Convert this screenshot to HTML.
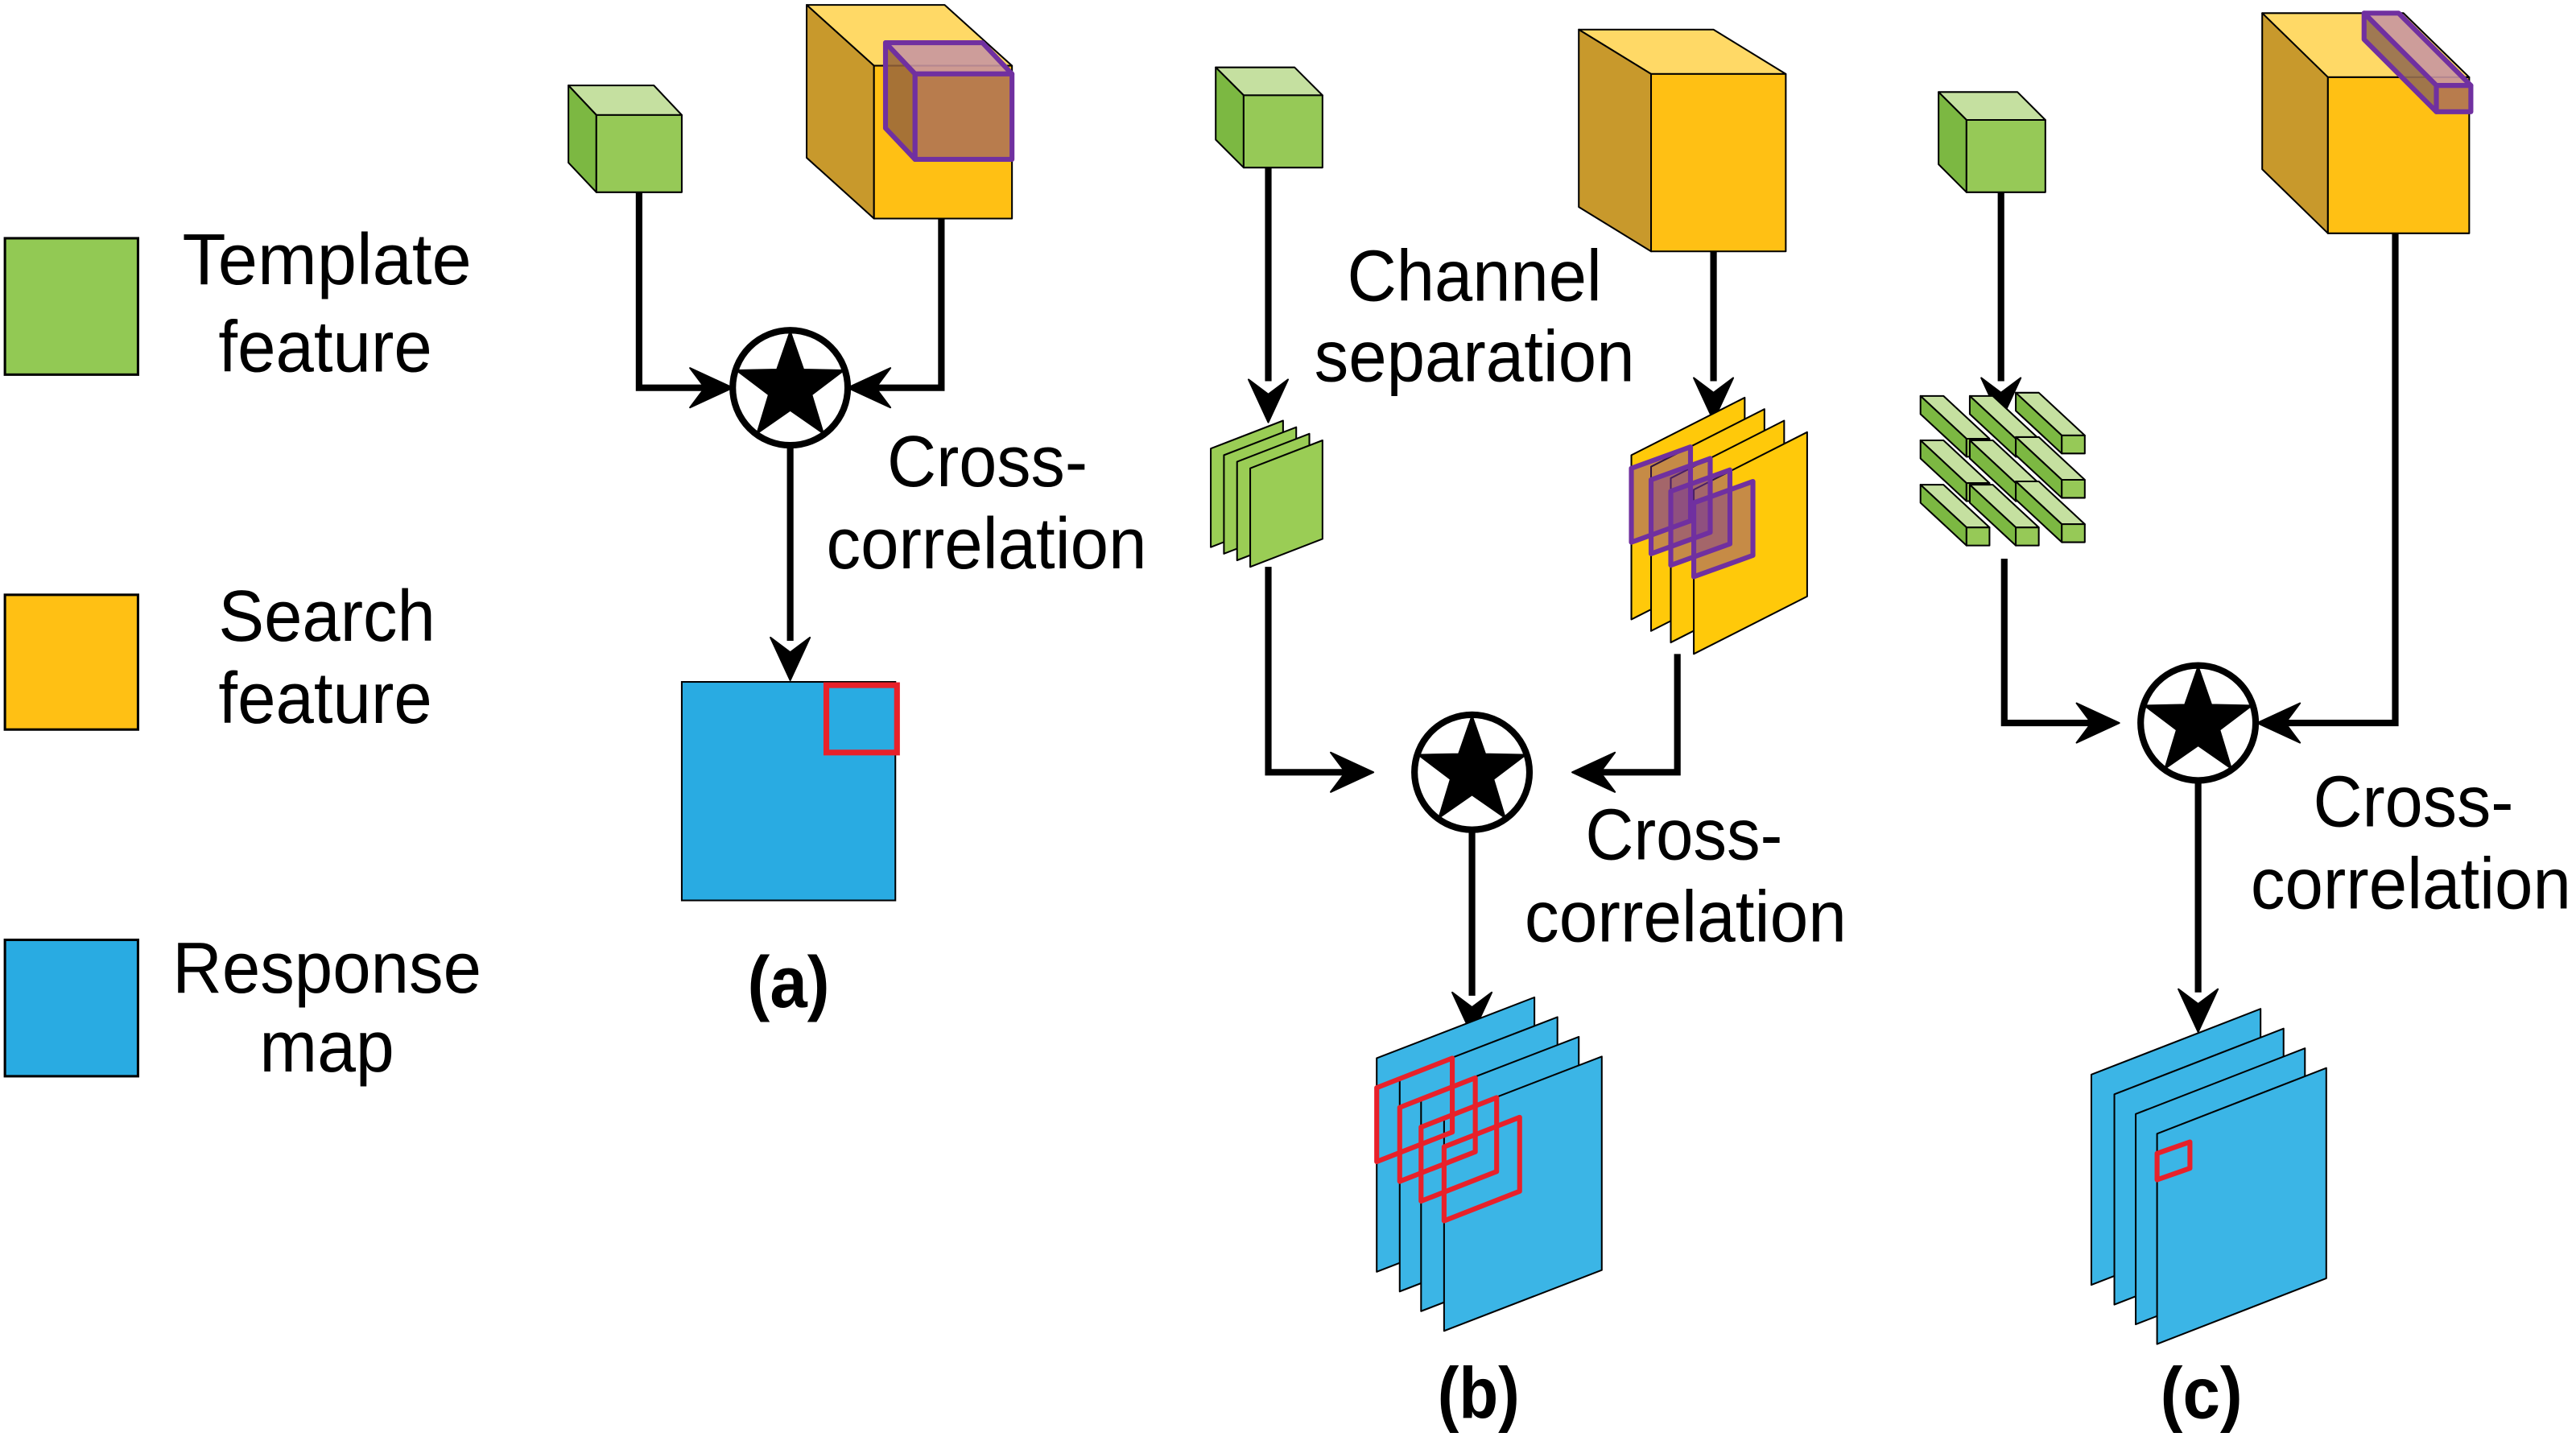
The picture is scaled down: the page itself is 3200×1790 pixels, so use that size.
<!DOCTYPE html>
<html><head><meta charset="utf-8"><style>
html,body{margin:0;padding:0;background:#fff;}
svg{display:block;}
text{font-family:"Liberation Sans",Arial,sans-serif;fill:#000;}
</style></head><body>
<svg id="s" xmlns="http://www.w3.org/2000/svg" width="3200" height="1790" viewBox="0 0 1568 877" preserveAspectRatio="none">
<rect x="0" y="0" width="1568" height="877" fill="#fff"/>
<g id="shapes"></g>
<g font-size="44">
<text x="111" y="173" textLength="176" lengthAdjust="spacingAndGlyphs">Template</text>
<text x="133" y="226" textLength="130" lengthAdjust="spacingAndGlyphs">feature</text>
<text x="133" y="390" textLength="132" lengthAdjust="spacingAndGlyphs">Search</text>
<text x="133" y="440" textLength="130" lengthAdjust="spacingAndGlyphs">feature</text>
<text x="105" y="604" textLength="188" lengthAdjust="spacingAndGlyphs">Response</text>
<text x="158" y="652" textLength="82" lengthAdjust="spacingAndGlyphs">map</text>
<text x="540" y="296" textLength="122" lengthAdjust="spacingAndGlyphs">Cross-</text>
<text x="503" y="346" textLength="195" lengthAdjust="spacingAndGlyphs">correlation</text>
<text x="820" y="183" textLength="155" lengthAdjust="spacingAndGlyphs">Channel</text>
<text x="800" y="232" textLength="195" lengthAdjust="spacingAndGlyphs">separation</text>
<text x="965" y="523" textLength="120" lengthAdjust="spacingAndGlyphs">Cross-</text>
<text x="928" y="573" textLength="196" lengthAdjust="spacingAndGlyphs">correlation</text>
<text x="1408" y="503" textLength="122" lengthAdjust="spacingAndGlyphs">Cross-</text>
<text x="1370" y="553" textLength="195" lengthAdjust="spacingAndGlyphs">correlation</text>
<text x="455" y="613" font-weight="bold" textLength="50" lengthAdjust="spacingAndGlyphs">(a)</text>
<text x="875" y="863" font-weight="bold" textLength="50" lengthAdjust="spacingAndGlyphs">(b)</text>
<text x="1315" y="863" font-weight="bold" textLength="50" lengthAdjust="spacingAndGlyphs">(c)</text>
</g>
</svg>
<script>
var g=document.getElementById('shapes'),h='';
function P(pts,fill,stroke,sw,extra){h+='<polygon points="'+pts.map(function(p){return p[0]+','+p[1]}).join(' ')+'" fill="'+fill+'" stroke="'+(stroke||'#000')+'" stroke-width="'+(sw||1)+'" stroke-linejoin="round" '+(extra||'')+'/>';}
var GC=['#c5e0a0','#7cb842','#96c957'],YC=['#ffd966','#c8992c','#ffc014'];
function cube(fx,fy,w,hh,dx,dy,c,st,sw,ex){
 P([[fx,fy],[fx+w,fy],[fx+w-dx,fy-dy],[fx-dx,fy-dy]],c[0],st,sw,ex);
 P([[fx,fy],[fx-dx,fy-dy],[fx-dx,fy+hh-dy],[fx,fy+hh]],c[1],st,sw,ex);
 P([[fx,fy],[fx+w,fy],[fx+w,fy+hh],[fx,fy+hh]],c[2],st,sw,ex);}
function plane(x,y,w,r,hh,fill,st,sw,ex){P([[x,y],[x+w,y-r],[x+w,y-r+hh],[x,y+hh]],fill,st,sw,ex);}
function line(pts){h+='<polyline points="'+pts.map(function(p){return p[0]+','+p[1]}).join(' ')+'" fill="none" stroke="#000" stroke-width="4"/>';}
function arrow(x,y,dir){var L=26,W=12,N=17;
 var f=function(a,b){ if(dir=='r')return [x-a,y+b]; if(dir=='l')return [x+a,y+b]; return [x+b,y-a];};
 P([[x,y],f(L,-W),f(N,0),f(L,W)],'#000','#000',1);}
function star(cx,cy,r){h+='<circle cx="'+cx+'" cy="'+cy+'" r="'+r+'" fill="#fff" stroke="#000" stroke-width="4"/>';
 var pts=[],R=r*0.98,ri=R*0.4;for(var i=0;i<10;i++){var a=-Math.PI/2+i*Math.PI/5,rr=i%2?ri:R;pts.push([cx+rr*Math.cos(a),cy+rr*Math.sin(a)]);}
 P(pts,'#000','#000',1);}
// legend
h+='<rect x="3" y="145" width="81" height="83" fill="#92c954" stroke="#000" stroke-width="1.5"/>';
h+='<rect x="3" y="362" width="81" height="82" fill="#ffc014" stroke="#000" stroke-width="1.5"/>';
h+='<rect x="3" y="572" width="81" height="83" fill="#29abe2" stroke="#000" stroke-width="1.5"/>';
// (a)
cube(363,70,52,47,17,18,GC);
cube(532,40,84,93,41,37,YC);
cube(557,45,59,52,18,19,['rgba(200,150,160,0.9)','rgba(150,100,60,0.85)','rgba(180,120,80,0.95)'],'#7030a0',3);
line([[389,117],[389,236],[440,236]]);arrow(446,236,'r');
line([[573,133],[573,236],[522,236]]);arrow(516,236,'l');
line([[481,271],[481,390]]);arrow(481,414,'d');
h+='<rect x="415" y="415" width="130" height="133" fill="#29abe2" stroke="#000" stroke-width="1"/>';
h+='<rect x="503" y="417" width="43" height="41" fill="none" stroke="#e8212a" stroke-width="3.5"/>';
star(481,236,35);
// (b)
cube(757,58,48,44,17,17,GC);
line([[772,102],[772,232]]);arrow(772,257,'d');
[[737,273],[745,277],[753,281],[761,285]].forEach(function(q){plane(q[0],q[1],44,17,60,'#9acd55');});
cube(1005,45,82,108,44,27,YC);
line([[1043,153],[1043,232]]);arrow(1043,256,'d');
[[993,277],[1005,284],[1017,291],[1031,298]].forEach(function(q){plane(q[0],q[1],69,35,100,'#ffc90a');});
[[993,285],[1005,292],[1017,299],[1031,306]].forEach(function(q){plane(q[0],q[1],36,13,45,'rgba(112,48,160,0.4)','#7030a0',3);});
line([[772,345],[772,470],[830,470]]);arrow(836,470,'r');
line([[1021,398],[1021,470],[963,470]]);arrow(957,470,'l');
line([[896,505],[896,606]]);arrow(896,630,'d');
[[838,644],[852,656],[865,668],[879,680]].forEach(function(q){plane(q[0],q[1],96,37,130,'#3bb5e6');});
[[838,662],[852,674],[865,686],[879,698]].forEach(function(q){plane(q[0],q[1],46,18,45,'none','#e8212a',3);});
star(896,470,35);
// (c)
cube(1197,73,48,44,17,17,GC);
line([[1218,117],[1218,232]]);arrow(1218,256,'d');
var fx=[1197,1227,1255],fy=[267,294,321];
for(var r=0;r<3;r++)for(var c=0;c<3;c++){cube(fx[c],fy[r]-(c==2?2:0),14,11,28,26,GC);}
cube(1417,47,86,95,40,39,YC);
cube(1483,52,21,16,44,44,['rgba(200,150,160,0.9)','rgba(150,110,80,0.9)','rgba(180,120,80,0.95)'],'#7030a0',3);
line([[1220,340],[1220,440],[1284,440]]);arrow(1290,440,'r');
line([[1458,142],[1458,440],[1380,440]]);arrow(1374,440,'l');
line([[1338,475],[1338,604]]);arrow(1338,628,'d');
[[1273,654],[1287,666],[1300,678],[1313,690]].forEach(function(q){plane(q[0],q[1],103,40,128,'#3bb5e6');});
plane(1313,702,20,7,16,'none','#e8212a',3);
star(1338,440,35);
g.innerHTML=h;
</script>
</body></html>
